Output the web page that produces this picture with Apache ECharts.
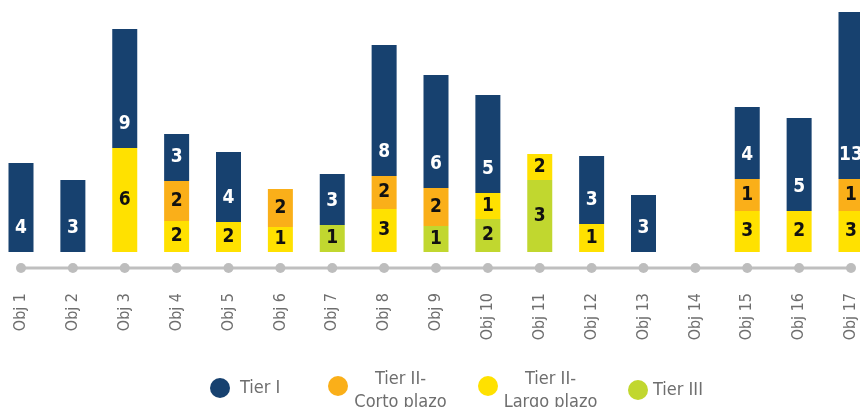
<!DOCTYPE html>
<html>
<head>
<meta charset="utf-8">
<script src="https://cdn.jsdelivr.net/npm/echarts@6/dist/echarts.min.js"></script>
<style>
  html, body { margin: 0; padding: 0; background: #fff; }
  #chart { width: 860px; height: 407px; }
</style>
</head>
<body>
<div id="chart"></div>
<script>
// categorias
var categories = ['Obj 1','Obj 2','Obj 3','Obj 4','Obj 5','Obj 6','Obj 7','Obj 8','Obj 9','Obj 10','Obj 11','Obj 12','Obj 13','Obj 14','Obj 15','Obj 16','Obj 17'];

// numeros que se muestran en cada tramo
var tier1Count = [4,3,9,3,4,0,3,8,6,5,0,3,3,0,4,5,13];
var cortoCount = [0,0,0,2,0,2,0,2,2,0,0,0,0,0,1,0,1];
var largoCount = [0,0,6,2,2,1,0,3,0,1,2,1,0,0,3,2,3];
var tier3Count = [0,0,0,0,0,0,1,0,1,2,3,0,0,0,0,0,0];

// altura de cada tramo (no es proporcional al numero en el original)
var tier1Height = [8.9,7.2,11.9,4.7,7.0,null,5.1,13.1,11.3,9.8,null,6.8,5.7,null,7.2,9.3,16.7];
var cortoHeight = [null,null,null,4.0,null,3.8,null,3.3,3.8,null,null,null,null,null,3.2,null,3.2];
var largoHeight = [null,null,10.4,3.1,3.0,2.5,null,4.3,null,2.6,2.6,2.8,null,null,4.1,4.1,4.1];
var tier3Height = [null,null,null,null,null,null,2.7,null,2.6,3.3,7.2,null,null,null,null,null,null];

// puntos del eje
var axisDots = [0,0,0,0,0,0,0,0,0,0,0,0,0,0,0,0,0];

var FONT = '"DejaVu Sans Condensed", "Liberation Sans Narrow", sans-serif';
var GREY = '#6e6e6e';

var myChart = echarts.init(document.getElementById('chart'));

function countLabel(counts, color, pos, dist) {
    return {
        show: true,
        position: pos,
        distance: dist,
        color: color,
        fontFamily: FONT,
        fontWeight: 'bold',
        fontSize: 19,
        formatter: function (p) {
            var c = counts[p.dataIndex];
            return c ? String(c) : '';
        }
    };
}

function barSeries(name, data, counts, color, labelColor, pos, dist) {
    return {
        name: name,
        type: 'bar',
        stack: 'total',
        xAxisIndex: 0,
        yAxisIndex: 0,
        barWidth: 25,
        clip: false,
        data: data,
        itemStyle: { color: color },
        label: countLabel(counts, labelColor, pos || 'inside', dist || 5),
        emphasis: { disabled: true }
    };
}

function oneLegend(name, left, top, formatter, rich, pad) {
    return {
        data: [name],
        left: left,
        top: top,
        icon: 'circle',
        itemWidth: 20,
        itemHeight: 20,
        selectedMode: false,
        formatter: formatter,
        textStyle: {
            color: GREY,
            fontFamily: FONT,
            fontSize: 18,
            padding: pad,
            rich: rich
        }
    };
}

var richCenter = {
    a: { width: 95, align: 'center', lineHeight: 23, fontSize: 18, color: GREY, fontFamily: FONT }
};

option = {
    backgroundColor: '#FFFFFF',
    animation: false,
    grid: [
        { left: 21, right: 9, top: 12, bottom: 155 },
        { left: 21, right: 9, top: 263, height: 10 }
    ],
    xAxis: [
        { type: 'category', gridIndex: 0, data: categories, boundaryGap: false, show: false },
        {
            type: 'category', gridIndex: 1, data: categories, boundaryGap: false,
            axisLine: { show: false }, axisTick: { show: false },
            axisLabel: { rotate: 90, margin: 20, color: GREY, fontFamily: FONT, fontSize: 16, interval: 0 }
        }
    ],
    yAxis: [
        { type: 'value', gridIndex: 0, min: 0, max: 24, show: false },
        { type: 'value', gridIndex: 1, min: -1, max: 1, show: false }
    ],
    legend: [
        oneLegend('Tier I', 205, 373, '{name}', null, [0, 0, 0, 5]),
        oneLegend('Tier II- Corto plazo', 323, 365, function () { return '{a|Tier II-}\n{a|Corto plazo}'; }, richCenter, [9, 0, 0, 0]),
        oneLegend('Tier II- Largo plazo', 473, 365, function () { return '{a|Tier II-}\n{a|Largo plazo}'; }, richCenter, [9, 0, 0, 0]),
        oneLegend('Tier III', 623, 375, '{name}', null, [0, 0, 0, 0])
    ],
    series: [
        barSeries('Tier III', tier3Height, tier3Count, '#C1D72F', '#111111'),
        barSeries('Tier II- Largo plazo', largoHeight, largoCount, '#FFE100', '#111111'),
        barSeries('Tier II- Corto plazo', cortoHeight, cortoCount, '#FAAF19', '#111111'),
        barSeries('Tier I', tier1Height, tier1Count, '#17416F', '#FFFFFF', 'insideBottom', 14),
        {
            name: 'eje',
            type: 'line',
            xAxisIndex: 1,
            yAxisIndex: 1,
            data: axisDots,
            symbol: 'circle',
            symbolSize: 10,
            lineStyle: { color: '#bfbfbf', width: 3 },
            itemStyle: { color: '#bdbdbd' },
            emphasis: { disabled: true },
            silent: true
        }
    ]
};
myChart.setOption(option);
</script>
</body>
</html>
